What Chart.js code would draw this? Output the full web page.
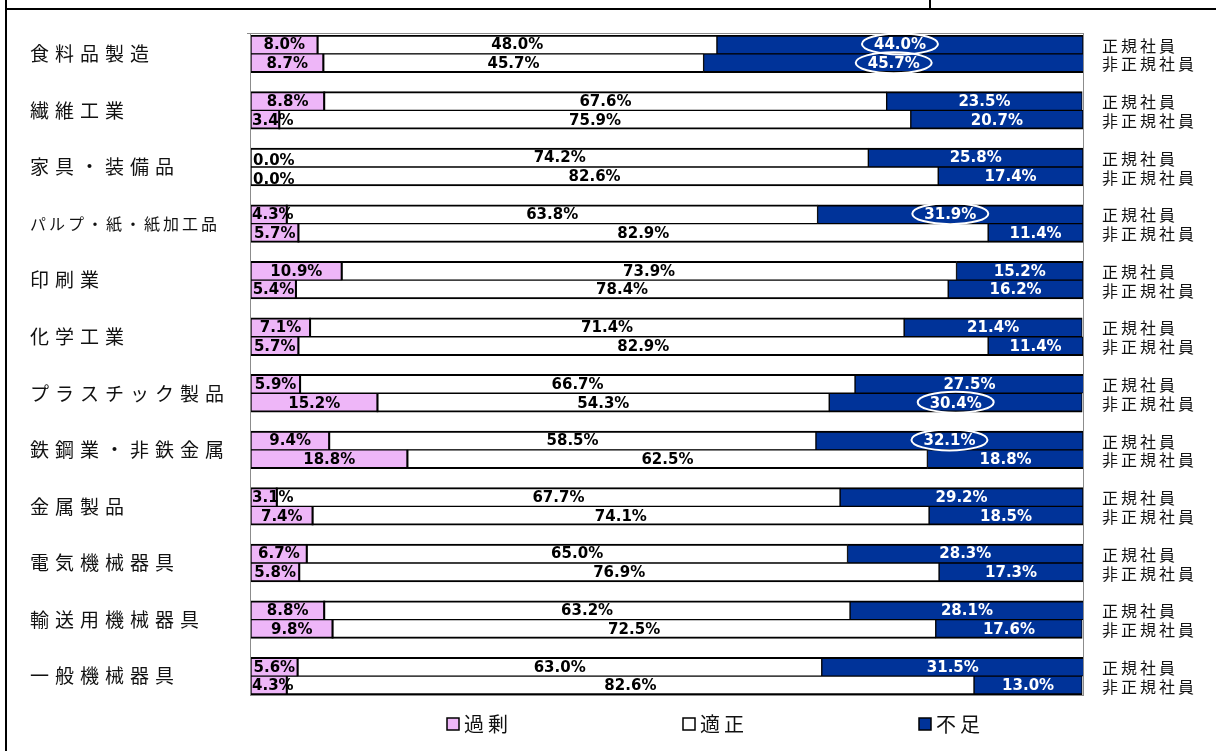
<!DOCTYPE html>
<html lang="ja">
<head>
<meta charset="utf-8">
<title>雇用人員の過不足</title>
<script src="https://cdn.jsdelivr.net/npm/chart.js@4/dist/chart.umd.min.js"></script>
<style>
  html, body { margin: 0; padding: 0; background: #fff; }
  canvas { display: block; }
</style>
</head>
<body>
<canvas id="chart" width="1216" height="751"></canvas>
<script>
// DATA
const categories = ["食料品製造", "繊維工業", "家具・装備品", "パルプ・紙・紙加工品", "印刷業", "化学工業",
  "プラスチック製品", "鉄鋼業・非鉄金属", "金属製品", "電気機械器具", "輸送用機械器具", "一般機械器具"];
const rowNames = ["正規社員", "非正規社員"];
const seriesNames = ["過剰", "適正", "不足"];

const overReg  = [8.0, 8.8, 0.0, 4.3, 10.9, 7.1, 5.9, 9.4, 3.1, 6.7, 8.8, 5.6];
const overNon  = [8.7, 3.4, 0.0, 5.7, 5.4, 5.7, 15.2, 18.8, 7.4, 5.8, 9.8, 4.3];
const fitReg   = [48.0, 67.6, 74.2, 63.8, 73.9, 71.4, 66.7, 58.5, 67.7, 65.0, 63.2, 63.0];
const fitNon   = [45.7, 75.9, 82.6, 82.9, 78.4, 82.9, 54.3, 62.5, 74.1, 76.9, 72.5, 82.6];
const shortReg = [44.0, 23.5, 25.8, 31.9, 15.2, 21.4, 27.5, 32.1, 29.2, 28.3, 28.1, 31.5];
const shortNon = [45.7, 20.7, 17.4, 11.4, 16.2, 11.4, 30.4, 18.8, 18.5, 17.3, 17.6, 13.0];

// labels ringed in white: [category index, row (0 = 正規, 1 = 非正規)]
const circled = [[0, 0], [0, 1], [3, 0], [6, 1], [7, 0]];

const colors = ["#EEB6F8", "#FFFFFF", "#003399"];
const labelColors = ["#000", "#000", "#fff"];

// rows: two bars per category, one empty slot between categories
const rows = [];
categories.forEach((c, i) => {
  rows.push({ g: i, r: 0 }, { g: i, r: 1 });
  if (i < categories.length - 1) rows.push(null);
});

function pick(reg, non) {
  return rows.map(x => x ? (x.r === 0 ? reg[x.g] : non[x.g]) : null);
}

const series = [pick(overReg, overNon), pick(fitReg, fitNon), pick(shortReg, shortNon)];

const datasets = series.map((d, i) => ({
  label: seriesNames[i],
  data: d,
  backgroundColor: colors[i],
  borderColor: "#000",
  borderSkipped: false,
  borderWidth: c => {
    const x = rows[c.dataIndex];
    const isReg = x && x.r === 0;
    return { left: 1, right: 1, top: isReg ? 2 : 1, bottom: isReg ? 1 : 2 };
  },
  barPercentage: 1,
  categoryPercentage: 1
}));

const CJK = '"Noto Sans CJK JP", "Noto Sans CJK SC", sans-serif';

function spaced(ctx, text, x, y, font, spacing) {
  ctx.font = font;
  ctx.letterSpacing = spacing + "px";
  ctx.fillText(text, x, y);
  ctx.letterSpacing = "0px";
}

// PLUGIN: frame, value labels, side labels, legend
const decor = {
  id: "decor",
  beforeDraw(chart) {
    const ctx = chart.ctx;
    ctx.save();
    ctx.fillStyle = "#fff";
    ctx.fillRect(0, 0, chart.width, chart.height);
    ctx.strokeStyle = "#000";
    ctx.lineWidth = 2;
    ctx.beginPath();
    ctx.moveTo(5, 9); ctx.lineTo(chart.width, 9);
    ctx.moveTo(6, 0); ctx.lineTo(6, chart.height);
    ctx.moveTo(930, 0); ctx.lineTo(930, 9);
    ctx.stroke();
    ctx.restore();
  },
  beforeDatasetsDraw(chart) {
    const a = chart.chartArea, ctx = chart.ctx;
    ctx.save();
    ctx.strokeStyle = "#8c8c8c";
    ctx.lineWidth = 1;
    ctx.strokeRect(a.left - 0.5, a.top - 1.5, a.right - a.left + 1, a.bottom - a.top + 2);
    ctx.beginPath();
    ctx.moveTo(a.left - 4, a.top - 1.5); ctx.lineTo(a.left, a.top - 1.5);
    ctx.stroke();
    ctx.restore();
  },
  afterDatasetsDraw(chart) {
    const a = chart.chartArea, ctx = chart.ctx;
    ctx.save();

    // value labels
    ctx.font = 'bold 15px "DejaVu Sans", Verdana, sans-serif';
    ctx.textBaseline = "middle";
    ctx.textAlign = "left";
    const centers = {};
    series.forEach((d, di) => {
      const meta = chart.getDatasetMeta(di);
      meta.data.forEach((bar, k) => {
        const v = d[k];
        if (v == null) return;
        const txt = v.toFixed(1) + "%";
        const left = Math.min(bar.x, bar.base), right = Math.max(bar.x, bar.base);
        const cx = (left + right) / 2;
        const w = ctx.measureText(txt).width;
        ctx.fillStyle = labelColors[di];
        if (v === 0) {
          ctx.fillText(txt, a.left + 2, bar.y + 4);
          return;
        }
        // narrow segments: keep the text inside the plot
        const tx = Math.max(cx - w / 2, a.left + 1);
        ctx.fillText(txt, tx, bar.y + 1);
        if (di === 2) centers[k] = { x: tx + w / 2, y: bar.y };
      });
    });

    // segment edges of the 適正 bars run over narrow labels
    ctx.strokeStyle = "#000";
    ctx.lineWidth = 2;
    chart.getDatasetMeta(1).data.forEach((bar, k) => {
      if (series[0][k] == null || series[0][k] === 0) return;
      const x = Math.min(bar.x, bar.base);
      ctx.beginPath();
      ctx.moveTo(x, bar.y - bar.height / 2);
      ctx.lineTo(x, bar.y + bar.height / 2);
      ctx.stroke();
    });

    // white rings
    ctx.strokeStyle = "#fff";
    ctx.lineWidth = 2;
    circled.forEach(([g, r]) => {
      const k = rows.findIndex(x => x && x.g === g && x.r === r);
      const c = centers[k];
      if (!c) return;
      ctx.beginPath();
      ctx.ellipse(c.x, c.y - 0.5, 38, 10.5, 0, 0, Math.PI * 2);
      ctx.stroke();
    });

    // category names and row names
    const yScale = chart.scales.y;
    ctx.fillStyle = "#111";
    ctx.textAlign = "left";
    ctx.textBaseline = "middle";
    categories.forEach((name, i) => {
      const k = rows.findIndex(x => x && x.g === i);
      const y = (yScale.getPixelForValue(k) + yScale.getPixelForValue(k + 1)) / 2;
      ctx.font = "19px " + CJK;
      ctx.letterSpacing = "6px";
      const w = ctx.measureText(name).width;
      ctx.letterSpacing = "0px";
      if (w > 210) spaced(ctx, name, 30, y, "16px " + CJK, 3);
      else spaced(ctx, name, 30, y, "19px " + CJK, 6);
    });
    rows.forEach((x, k) => {
      if (!x) return;
      spaced(ctx, rowNames[x.r], a.right + 19, yScale.getPixelForValue(k) + 1, "16px " + CJK, 3);
    });

    // legend
    const ly = 724;
    seriesNames.forEach((name, i) => {
      const lx = 447 + i * 236;
      ctx.fillStyle = colors[i];
      ctx.fillRect(lx, ly - 6, 12, 12);
      ctx.strokeStyle = "#000";
      ctx.lineWidth = 1.5;
      ctx.strokeRect(lx, ly - 6, 12, 12);
      ctx.fillStyle = "#111";
      spaced(ctx, name, lx + 17, ly, "20px " + CJK, 4);
    });

    ctx.restore();
  }
};

// CHART
new Chart(document.getElementById("chart"), {
  type: "bar",
  data: { labels: rows.map((x, k) => "r" + k), datasets },
  options: {
    indexAxis: "y",
    responsive: false,
    animation: false,
    layout: { padding: { left: 251, right: 133, top: 35, bottom: 56 } },
    scales: {
      x: { stacked: true, min: 0, max: 100, display: false },
      y: { stacked: true, display: false }
    },
    plugins: {
      legend: { display: false },
      tooltip: { enabled: false }
    }
  },
  plugins: [decor]
});
</script>
</body>
</html>
